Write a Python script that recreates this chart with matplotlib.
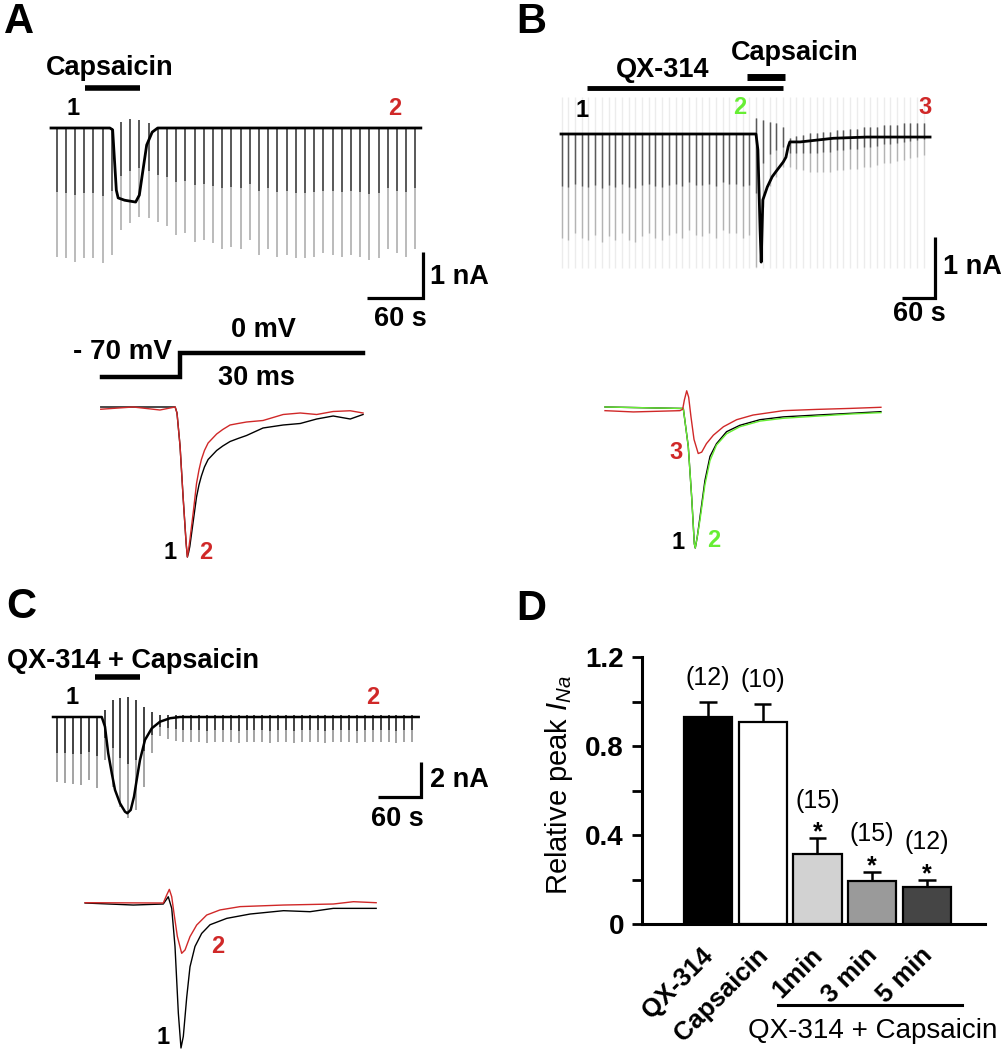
import numpy as np
import matplotlib
matplotlib.use('Agg')
import matplotlib.pyplot as plt
import matplotlib.transforms as mtransforms

plt.rcParams['font.family'] = ['Liberation Sans', 'DejaVu Sans']
plt.rcParams['mathtext.fontset'] = 'custom'
plt.rcParams['mathtext.rm'] = 'Liberation Sans'
plt.rcParams['mathtext.it'] = 'Liberation Sans:italic'
plt.rcParams['mathtext.bf'] = 'Liberation Sans:bold'

RED = '#d02828'
GREEN = '#66ee33'

# ---------------- data ----------------
# A: capsaicin alone, test pulse every 10 s (current in nA, time in s)
a_sweep_top = [0, 0, 0, 0, 0, 0, 0, 0.14, 0.20, 0.17, 0.10] + [0] * 29
a_sweep_bottom = [-2.80, -2.83, -2.91, -2.83, -2.83, -2.94, -2.76, -2.22, -2.07, -1.93,
                  -1.95, -2.04, -2.14, -2.33, -2.29, -2.47, -2.43, -2.51, -2.62, -2.58,
                  -2.62, -2.43, -2.76, -2.62, -2.80, -2.76, -2.83, -2.83, -2.80, -2.72,
                  -2.76, -2.80, -2.76, -2.80, -2.87, -2.83, -2.62, -2.72, -2.80, -2.62]
a_hold_t = [0, 64, 67, 71, 73, 80, 92, 96, 100, 104, 110, 116, 402]
a_hold_i = [0, 0, -0.04, -1.35, -1.52, -1.57, -1.61, -1.46, -0.91, -0.37, -0.09, 0, 0]

# A: single sweeps 1 and 2 (ms, normalised to peak of sweep 1)
a_ms = [-12.5, -7.2, -2.8, -0.3, 0, 0.5, 1.0, 1.5, 1.7, 1.9, 2.1, 2.4, 2.7, 3.2, 3.6, 4.0,
        4.5, 5.1, 5.8, 6.5, 7.5, 8.7, 10.0, 11.4, 14.1, 17.4, 20.2, 22.9, 25.6, 28.4, 30.5]
a_ina_1 = [0, 0, 0, 0, -0.04, -0.26, -0.60, -0.91, -1.0, -0.97, -0.93, -0.84, -0.75, -0.60,
           -0.52, -0.46, -0.40, -0.35, -0.32, -0.29, -0.26, -0.23, -0.21, -0.19, -0.14,
           -0.12, -0.11, -0.08, -0.06, -0.08, -0.05]
a_ina_2 = [-0.015, 0, -0.02, 0, -0.04, -0.26, -0.60, -0.91, -1.0, -0.95, -0.89, -0.79,
           -0.69, -0.51, -0.42, -0.35, -0.29, -0.24, -0.21, -0.18, -0.15, -0.12, -0.11,
           -0.10, -0.09, -0.05, -0.04, -0.05, -0.03, -0.025, -0.04]
a_v_t = [-12.3, 0.5, 0.5, 30.5]
a_v_mv = [-70, -70, 0, 0]

# B: QX-314 then capsaicin, test pulse every 12.2 s
b_sweep_top = [0] * 29 + [0.26, 0.23, 0.20, 0.18, 0.12] + \
    [-0.07, -0.04, -0.02, 0.01, 0.01, 0.04, 0.04, 0.07, 0.07, 0.09, 0.09,
     0.12, 0.12, 0.12, 0.15, 0.15, 0.15, 0.18, 0.18, 0.18, 0.18]
b_sweep_bottom = [-1.71, -1.74, -1.63, -1.71, -1.74, -1.66, -1.77, -1.68, -1.74, -1.63,
                  -1.74, -1.77, -1.68, -1.63, -1.71, -1.74, -1.66, -1.63, -1.71, -1.58,
                  -1.66, -1.68, -1.63, -1.71, -1.58, -1.63, -1.63, -1.71, -1.66,
                  -2.18, -1.19, -0.86, -0.70, -0.54,
                  -0.54, -0.57, -0.59, -0.62, -0.62, -0.62, -0.62, -0.59, -0.59, -0.57,
                  -0.57, -0.54, -0.54, -0.51, -0.48, -0.48, -0.45, -0.43, -0.40, -0.37, -0.34]
b_faint = (0.6, -2.2)
b_hold_t = [0, 354.5, 358, 362, 364, 367, 375, 384, 393, 404, 409, 413, 416, 435, 465,
            495, 556, 671]
b_hold_i = [0, 0, -0.26, -1.57, -2.10, -1.08, -0.87, -0.70, -0.59, -0.46, -0.38, -0.21,
            -0.13, -0.13, -0.10, -0.07, -0.05, -0.05]

b_ms = [-12.7, -0.8, -0.27, 0.52, 1.06, 1.48, 1.63, 1.95, 2.38, 3.17, 3.97, 5.0, 6.6,
        8.7, 11.9, 15.6, 20.9, 26.2, 31.1]
b_ina_1 = [0, -0.01, -0.01, -0.28, -0.64, -0.97, -1.0, -0.92, -0.78, -0.52, -0.35,
           -0.26, -0.175, -0.13, -0.09, -0.07, -0.057, -0.045, -0.033]
b_ina_2 = [0, -0.01, -0.01, -0.28, -0.64, -0.97, -1.0, -0.92, -0.80, -0.55, -0.38,
           -0.27, -0.19, -0.14, -0.10, -0.08, -0.065, -0.05, -0.04]
b_ms_3 = [-12.7, -8.2, -0.8, -0.37, -0.1, 0.27, 0.58, 0.95, 1.43, 2.1, 2.65, 3.4, 4.5,
          6.1, 8.2, 10.8, 15.6, 20.9, 26.2, 31.1]
b_ina_3 = [-0.026, -0.035, -0.026, -0.016, 0.05, 0.115, 0.07, -0.07, -0.23, -0.33, -0.32,
           -0.26, -0.20, -0.14, -0.09, -0.057, -0.026, -0.017, -0.01, -0.002]

# C: QX-314 + capsaicin, test pulse every 11 s
c_sweep_top = [0] * 6 + [0.40, 0.97, 1.07, 1.16, 0.97, 0.59, 0.30] + [0.1] * 33
c_sweep_bottom = [-3.70, -3.79, -3.83, -3.89, -3.60, -4.07,
                  -2.46, -3.98, -5.13, -5.79, -5.31, -3.98, -2.07,
                  -1.10, -1.25, -1.35, -1.45, -1.40, -1.45, -1.50, -1.45, -1.40, -1.45,
                  -1.50, -1.45, -1.45, -1.40, -1.50, -1.45, -1.45, -1.50, -1.40, -1.45,
                  -1.45, -1.50, -1.45, -1.40, -1.45, -1.50, -1.45, -1.45, -1.40, -1.45,
                  -1.50, -1.45, -1.40]
c_hold_t = [0, 68, 72.5, 77, 82, 86.5, 93.4, 100.4, 103.6, 108.4, 113, 116.7, 121.3,
            128.3, 137.7, 149.2, 163.2, 177, 510]
c_hold_i = [0, 0, -0.55, -2.07, -3.22, -4.17, -4.93, -5.41, -5.50, -5.31, -4.55, -3.60,
            -2.46, -1.31, -0.65, -0.27, -0.07, 0, 0]

c_ms_1 = [-13.0, -5.35, -0.59, 0.2, 0.75, 1.27, 1.8, 2.22, 2.59, 3.13, 3.65, 4.44, 5.5,
          6.83, 9.48, 13.2, 18.5, 22.7, 26.4, 33.2]
c_ina_1 = [0, -0.014, -0.007, 0.043, -0.037, -0.30, -0.76, -1.0, -0.92, -0.65, -0.44,
           -0.30, -0.21, -0.15, -0.106, -0.076, -0.053, -0.06, -0.037, -0.037]
c_ms_2 = [-13.0, -0.59, -0.05, 0.37, 0.75, 1.11, 1.64, 2.33, 2.86, 3.65, 4.71, 6.3, 8.4,
          11.6, 18.5, 26.4, 29.6, 33.2]
c_ina_2 = [0.002, 0, 0.055, 0.094, 0.043, -0.071, -0.23, -0.347, -0.324, -0.232, -0.152,
           -0.083, -0.048, -0.025, -0.014, -0.007, 0.009, 0.002]

# D: summary
d_labels = ['QX-314', 'Capsaicin', '1min', '3 min', '5 min']
d_mean = [0.93, 0.91, 0.315, 0.195, 0.167]
d_sem = [0.07, 0.08, 0.07, 0.04, 0.033]
d_n = ['(12)', '(10)', '(15)', '(15)', '(12)']
d_sig = [False, False, True, True, True]
d_colors = ['black', 'white', '#d2d2d2', '#9a9a9a', '#454545']

# ---------------- layout helpers ----------------
W, H = 1001, 1050
fig = plt.figure(figsize=(W / 100, H / 100), dpi=100)


def panel(ox, oy, sx, sy):
    # transparent full-figure axes; data origin at pixel (ox, oy), sx/sy pixels per unit
    ax = fig.add_axes([0, 0, 1, 1])
    ax.set_xlim(-ox / sx, (W - ox) / sx)
    ax.set_ylim((oy - H) / sy, oy / sy)
    ax.axis('off')
    return ax


def sweeps(ax, t, top, bottom, frac, dark, light, lw=1.1):
    top = np.asarray(top, float)
    bottom = np.asarray(bottom, float)
    ax.vlines(t, bottom, top, colors=light, lw=lw)
    ax.vlines(t, top + frac * (bottom - top), top, colors=dark, lw=lw)


def scalebar(ax, x1, y0, dx, dy):
    ax.plot([x1 - dx, x1, x1], [y0, y0, y0 + dy], color='black', lw=2.3,
            solid_joinstyle='miter', solid_capstyle='butt')


bold = dict(fontweight='bold')
LAB = 19.5   # drug / scale-bar labels
NUM = 17     # sweep numbers
fig.text(4 / W, 1 - 2 / H, 'A', fontsize=30, va='top', **bold)
fig.text(516 / W, 1 - 2 / H, 'B', fontsize=30, va='top', **bold)
fig.text(6 / W, 1 - 587 / H, 'C', fontsize=30, va='top', **bold)
fig.text(516 / W, 1 - 589 / H, 'D', fontsize=30, va='top', **bold)

# ---------------- panel A ----------------
ax = panel(51, 128, 0.92, 46)
a_t = 6 + 10 * np.arange(len(a_sweep_bottom))
sweeps(ax, a_t, a_sweep_top, a_sweep_bottom, 0.5, '#404040', '#a8a8a8')
ax.plot(a_hold_t, a_hold_i, color='black', lw=2.0)
ax.plot([37, 97], [0.87, 0.87], color='black', lw=4, solid_capstyle='butt')
ax.text(64, 1.3, 'Capsaicin', fontsize=LAB, ha='center', va='center', **bold)
ax.text(24, 0.43, '1', fontsize=NUM, ha='center', va='center', **bold)
ax.text(374, 0.43, '2', fontsize=NUM, ha='center', va='center', color=RED, **bold)
scalebar(ax, 404, -3.7, 60, 1)
ax.text(412, -3.24, '1 nA', fontsize=LAB, ha='left', va='center', **bold)
ax.text(380, -4.15, '60 s', fontsize=LAB, ha='center', va='center', **bold)

axv = panel(177, 353, 6.1, 24 / 70)
axv.plot(a_v_t, a_v_mv, color='black', lw=3.2, solid_joinstyle='miter')
axv.text(-0.8, 3, '- 70 mV', fontsize=20, ha='right', va='center', **bold)
axv.text(14.1, 67, '0 mV', fontsize=LAB, ha='center', va='center', **bold)
axv.text(13.1, -73, '30 ms', fontsize=LAB, ha='center', va='center', **bold)

ax = panel(177, 407, 6.1, 150)
ax.plot(a_ms, a_ina_1, color='black', lw=1.0)
ax.plot(a_ms, a_ina_2, color=RED, lw=1.0)
ax.text(-1.15, -0.97, '1', fontsize=NUM, ha='center', va='center', **bold)
ax.text(4.75, -0.97, '2', fontsize=NUM, ha='center', va='center', color=RED, **bold)

# ---------------- panel B ----------------
ax = panel(561, 134, 0.55, 61)
b_t = 1 + 12.2 * np.arange(len(b_sweep_bottom))
ax.vlines(b_t, b_faint[1], b_faint[0], colors='#ececec', lw=1.0)
sweeps(ax, b_t, b_sweep_top, b_sweep_bottom, 0.5, '#5a5a5a', '#b4b4b4', lw=1.0)
ax.plot(b_hold_t, b_hold_i, color='black', lw=2.0)
ax.plot([47, 404], [0.75, 0.75], color='black', lw=3.5, solid_capstyle='butt')
ax.plot([338, 407], [0.93, 0.93], color='black', lw=5, solid_capstyle='butt')
ax.text(184, 1.05, 'QX-314', fontsize=LAB, ha='center', va='center', **bold)
ax.text(425, 1.33, 'Capsaicin', fontsize=LAB, ha='center', va='center', **bold)
ax.text(38, 0.39, '1', fontsize=NUM, ha='center', va='center', **bold)
ax.text(325, 0.43, '2', fontsize=NUM, ha='center', va='center', color=GREEN, **bold)
ax.text(662, 0.43, '3', fontsize=NUM, ha='center', va='center', color=RED, **bold)
scalebar(ax, 680, -2.69, 60, 1)
ax.text(695, -2.18, '1 nA', fontsize=LAB, ha='left', va='center', **bold)
ax.text(651, -2.95, '60 s', fontsize=LAB, ha='center', va='center', **bold)

ax = panel(685, 407, 6.3, 141)
ax.plot(b_ms, b_ina_1, color='black', lw=1.0)
ax.plot(b_ms, b_ina_2, color=GREEN, lw=1.0)
ax.plot(b_ms_3, b_ina_3, color=RED, lw=1.0)
ax.text(-1.4, -0.32, '3', fontsize=NUM, ha='center', va='center', color=RED, **bold)
ax.text(-1.1, -0.96, '1', fontsize=NUM, ha='center', va='center', **bold)
ax.text(4.6, -0.95, '2', fontsize=NUM, ha='center', va='center', color=GREEN, **bold)

# ---------------- panel C ----------------
ax = panel(53, 717, 0.717, 17.5)
c_t = 6 + 11 * np.arange(len(c_sweep_bottom))
sweeps(ax, c_t, c_sweep_top, c_sweep_bottom, 0.55, '#2a2a2a', '#8a8a8a')
ax.plot(c_hold_t, c_hold_i, color='black', lw=1.8)
ax.plot([58.6, 121], [2.29, 2.29], color='black', lw=4, solid_capstyle='butt')
ax.text(-64, 3.2, 'QX-314 + Capsaicin', fontsize=LAB, ha='left', va='center', **bold)
ax.text(26.5, 1.14, '1', fontsize=NUM, ha='center', va='center', **bold)
ax.text(446, 1.14, '2', fontsize=NUM, ha='center', va='center', color=RED, **bold)
scalebar(ax, 513, -4.57, 60, 2)
ax.text(526, -3.6, '2 nA', fontsize=LAB, ha='left', va='center', **bold)
ax.text(480, -5.83, '60 s', fontsize=LAB, ha='center', va='center', **bold)

ax = panel(167, 903, 6.3, 145)
ax.plot(c_ms_1, c_ina_1, color='black', lw=1.0)
ax.plot(c_ms_2, c_ina_2, color=RED, lw=1.0)
ax.text(-0.6, -0.93, '1', fontsize=NUM, ha='center', va='center', **bold)
ax.text(8.1, -0.30, '2', fontsize=NUM, ha='center', va='center', color=RED, **bold)

# ---------------- panel D ----------------
ax = fig.add_axes([642 / W, 1 - 924 / H, (985 - 642) / W, (924 - 657) / H])
ax.patch.set_visible(False)
x = np.arange(len(d_mean))
mean = np.array(d_mean)
top = mean + np.array(d_sem)
ax.bar(x, mean, width=0.88, color=d_colors, edgecolor='black', linewidth=1.6, zorder=2)
ax.vlines(x, mean, top, colors='black', lw=1.8, zorder=1)
ax.hlines(top, x - 0.16, x + 0.16, colors='black', lw=1.8, zorder=1)
for xi, yi, n, sig in zip(x, top, d_n, d_sig):
    if sig:
        ax.annotate('*', (xi, yi), xytext=(0, -1), textcoords='offset points',
                    ha='center', va='baseline', fontsize=18, **bold)
        ax.annotate(n, (xi, yi), xytext=(0, 27), textcoords='offset points',
                    ha='center', va='center', fontsize=18)
    else:
        ax.annotate(n, (xi, yi), xytext=(0, 17), textcoords='offset points',
                    ha='center', va='center', fontsize=18)

ax.set_xlim(-1.205, 5.06)
ax.set_ylim(0, 1.2)
ax.set_yticks([0, 0.4, 0.8, 1.2])
ax.set_yticklabels(['0', '0.4', '0.8', '1.2'], fontsize=20, fontweight='bold')
ax.set_yticks([0.2, 0.6, 1.0], minor=True)
ax.tick_params(axis='y', which='both', direction='out', length=7, width=2, pad=6)
ax.set_xticks(x)
ax.set_xticklabels(d_labels, rotation=45, ha='right', va='top', fontsize=18.5,
                   fontweight='bold')
ax.tick_params(axis='x', length=0, pad=14)
shift = mtransforms.ScaledTranslation(10 / 100, 0, fig.dpi_scale_trans)
for lbl in ax.get_xticklabels():
    lbl.set_transform(lbl.get_transform() + shift)
for sp in ['top', 'right']:
    ax.spines[sp].set_visible(False)
for sp in ['left', 'bottom']:
    ax.spines[sp].set_linewidth(2.2)
ax.set_ylabel(r'Relative peak $I_{Na}$', fontsize=21)
ax.yaxis.set_label_coords(-0.195, 0.52)
ax.plot([1.28, 4.64], [-0.364, -0.364], color='black', lw=2.2, clip_on=False)
ax.text(3.0, -0.48, 'QX-314 + Capsaicin', fontsize=20, ha='center', va='center')

fig.savefig('out.png', dpi=100)
